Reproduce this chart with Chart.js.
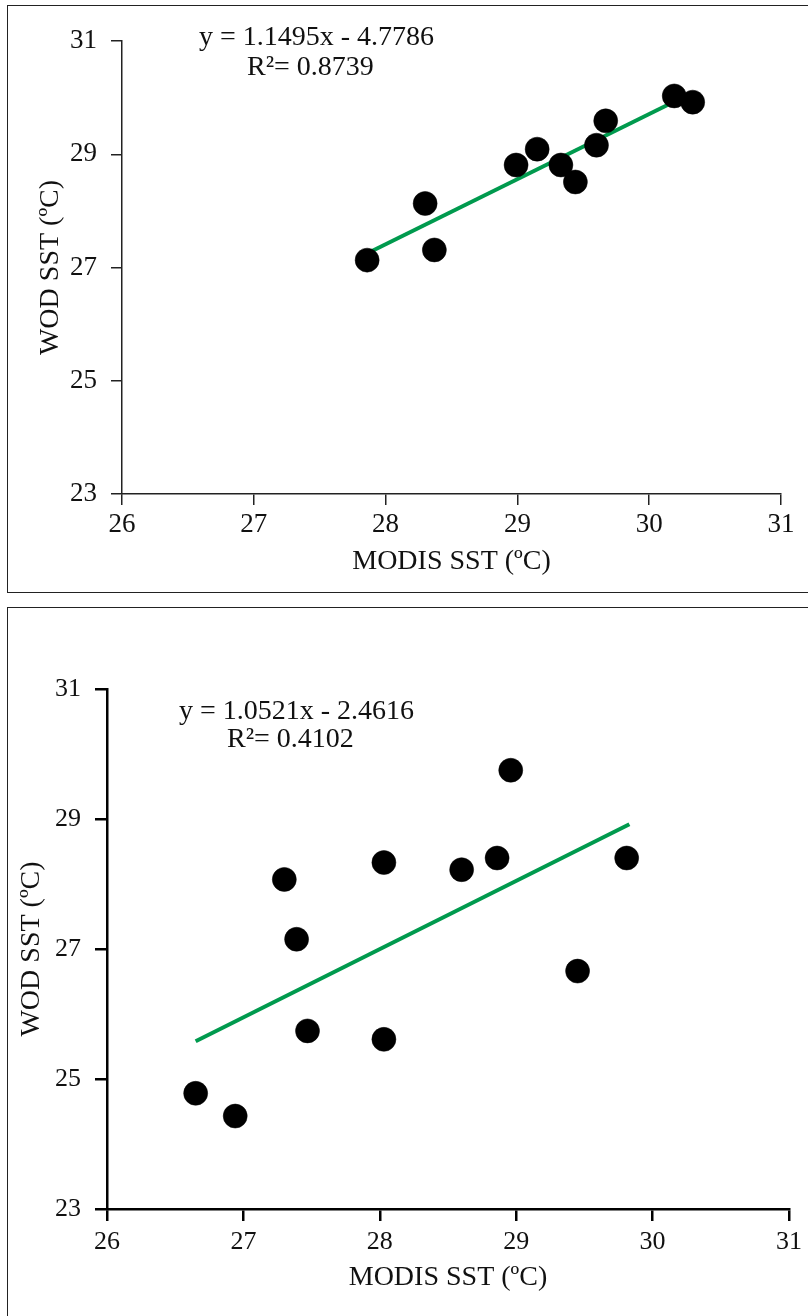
<!DOCTYPE html>
<html>
<head>
<meta charset="utf-8">
<script src="https://cdn.jsdelivr.net/npm/chart.js@4/dist/chart.umd.min.js"></script>
<style>
  html, body { margin: 0; padding: 0; background: #fff; }
  body { position: relative; width: 808px; height: 1316px; overflow: hidden; }
  .panel { position: absolute; border: 1.5px solid #222; box-sizing: border-box; }
  canvas { position: absolute; left: 0; }
</style>
</head>
<body>
<div class="panel" style="left:7px; top:5px; width:820px; height:588px;"></div>
<div class="panel" style="left:7px; top:607px; width:820px; height:730px;"></div>
<canvas id="top" width="808" height="600" style="top:0;"></canvas>
<canvas id="bottom" width="808" height="696" style="top:620px;"></canvas>
<script>
// scatter of MODIS vs WOD sea surface temperature, two panels

const xTicks = [26, 27, 28, 29, 30, 31];
const yTicks = [23, 25, 27, 29, 31];

// top panel
const topModis = [27.86, 28.30, 28.37, 28.99, 29.15, 29.33, 29.44, 29.60, 29.67, 30.19, 30.33];
const topWod   = [27.13, 28.13, 27.31, 28.81, 29.09, 28.81, 28.51, 29.16, 29.59, 30.03, 29.92];
const topFitX  = [27.87, 30.20];
const topFitY  = [27.26, 29.94];
const topEq    = ['y = 1.1495x - 4.7786', 'R\u00b2= 0.8739'];

// bottom panel
const botModis = [28.96, 28.03, 27.30, 28.60, 28.86, 29.81, 27.39, 29.45, 27.47, 28.03, 26.65, 26.94];
const botWod   = [29.75, 28.33, 28.07, 28.22, 28.40, 28.40, 27.15, 26.66, 25.74, 25.61, 24.78, 24.43];
const botFitX  = [26.65, 29.83];
const botFitY  = [25.58, 28.92];
const botEq    = ['y = 1.0521x - 2.4616', 'R\u00b2= 0.4102'];

const GREEN = '#009a4e';
const SERIF = '"Liberation Serif", "Times New Roman", serif';

Chart.defaults.font.family = SERIF;
Chart.defaults.color = '#111';

const pts = (xs, ys) => xs.map((x, i) => ({ x, y: ys[i] }));

function makeChart(id, cfg) {
  const eqPlugin = {
    id: 'eq',
    afterDraw(chart) {
      const { ctx, chartArea } = chart;
      ctx.save();
      ctx.font = '28px ' + SERIF;
      ctx.fillStyle = '#111';
      ctx.textBaseline = 'alphabetic';
      ctx.fillText(cfg.eq[0], chartArea.left + cfg.eqPos[0][0], chartArea.top + cfg.eqPos[0][1]);
      ctx.fillText(cfg.eq[1], chartArea.left + cfg.eqPos[1][0], chartArea.top + cfg.eqPos[1][1]);
      ctx.restore();
    }
  };

  const axisLine = { display: true, color: cfg.axisColor, width: cfg.axisWidth };
  const tickMarks = {
    display: true, drawOnChartArea: false, drawTicks: true,
    tickLength: cfg.tickLen, color: cfg.axisColor, lineWidth: cfg.axisWidth
  };

  return new Chart(document.getElementById(id), {
    type: 'scatter',
    data: {
      datasets: [
        {
          data: pts(cfg.xs, cfg.ys),
          pointRadius: 12, pointHoverRadius: 12,
          backgroundColor: '#000', borderColor: '#000', borderWidth: 0.5,
        },
        {
          type: 'line',
          data: pts(cfg.fitX, cfg.fitY),
          borderColor: GREEN, borderWidth: 4,
          pointRadius: 0, fill: false, tension: 0,
        }
      ]
    },
    options: {
      responsive: false, animation: false, events: [],
      layout: { autoPadding: false, padding: cfg.pad },
      plugins: { legend: { display: false }, tooltip: { enabled: false } },
      scales: {
        x: {
          type: 'linear', position: 'bottom', min: 26, max: 31,
          afterBuildTicks: s => { s.ticks = xTicks.map(v => ({ value: v })); },
          afterFit: s => { s.height = cfg.xHeight; },
          border: axisLine, grid: tickMarks,
          ticks: { color: '#111', padding: cfg.xTickPad, font: { family: SERIF, size: cfg.tickSize } },
          title: {
            display: true, text: 'MODIS SST (\u00baC)', color: '#111',
            font: { family: SERIF, size: 28 }, padding: { top: 0, bottom: cfg.xTitlePad }
          }
        },
        y: {
          type: 'linear', position: 'left', min: 23, max: 31,
          afterBuildTicks: s => { s.ticks = yTicks.map(v => ({ value: v })); },
          afterFit: s => { s.width = cfg.yWidth; },
          border: axisLine, grid: tickMarks,
          ticks: { color: '#111', padding: 14, font: { family: SERIF, size: cfg.tickSize } },
          title: {
            display: true, text: 'WOD SST (\u00baC)', color: '#111',
            font: { family: SERIF, size: 28 }, padding: { top: cfg.yTitlePad, bottom: 0 }
          }
        }
      }
    },
    plugins: [eqPlugin]
  });
}

makeChart('top', {
  xs: topModis, ys: topWod, fitX: topFitX, fitY: topFitY, eq: topEq,
  eqPos: [[77, 4], [125, 34]],
  pad: { top: 41, right: 27, bottom: 0, left: 0 },
  yWidth: 122, xHeight: 106,
  axisColor: '#222', axisWidth: 1.5, tickLen: 11, tickSize: 27,
  xTickPad: 4, xTitlePad: 22, yTitlePad: 34
});

makeChart('bottom', {
  xs: botModis, ys: botWod, fitX: botFitX, fitY: botFitY, eq: botEq,
  eqPos: [[72, 30], [120, 58]],
  pad: { top: 69, right: 11, bottom: 0, left: 0 },
  yWidth: 107, xHeight: 107,
  axisColor: '#000', axisWidth: 2.5, tickLen: 12, tickSize: 26,
  xTickPad: 6, xTitlePad: 22, yTitlePad: 15
});
</script>
</body>
</html>
